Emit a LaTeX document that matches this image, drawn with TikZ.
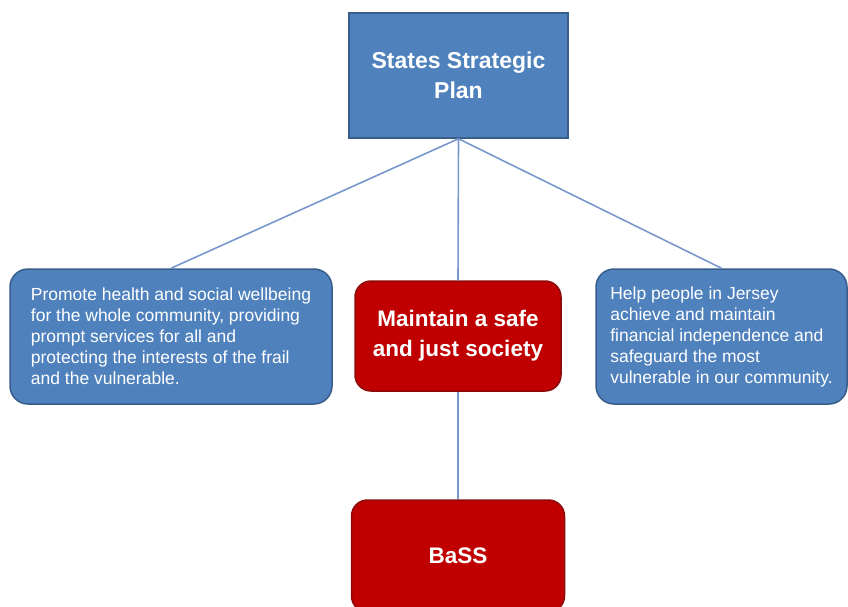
\documentclass[tikz,border=0pt]{standalone}
\usepackage{fontspec}
\setmainfont{Liberation Sans}
\definecolor{boxblue}{RGB}{79,129,189}
\definecolor{boxedge}{RGB}{56,93,138}
\definecolor{boxred}{RGB}{192,0,0}
\definecolor{rededge}{RGB}{140,10,10}
\definecolor{linkblue}{RGB}{120,152,205}
\begin{document}
\begin{tikzpicture}[x=1pt,y=-1pt,
    planbox/.style={draw=boxedge,fill=boxblue,line width=1.5pt,text=white,inner sep=0pt,
        font=\fontsize{23}{30}\selectfont\bfseries,align=center},
    aimbox/.style={draw=boxedge,fill=boxblue,line width=1.5pt,text=white,inner sep=0pt,
        rounded corners=18pt,font=\fontsize{17.5}{21}\selectfont,align=left},
    redbox/.style={draw=rededge,fill=boxred,line width=1.5pt,text=white,inner sep=0pt,
        rounded corners=16pt,font=\fontsize{22.5}{30}\selectfont\bfseries,align=center},
    link/.style={draw=linkblue,line width=1.6pt}]
    \useasboundingbox (0,0) rectangle (848,607);

    % Top of the plan
    \node[planbox,minimum width=219pt,minimum height=125pt] (plan) at (458.5,75.5)
        {States Strategic\\Plan};

    % Three aims
    \node[aimbox,minimum width=322pt,minimum height=135pt] (health) at (171,336.5)
        {Promote health and social wellbeing\\for the whole community, providing\\prompt services for all and\\protecting the interests of the frail\\and the vulnerable.};
    \node[redbox,minimum width=206pt,minimum height=110pt] (safe) at (458,336)
        {Maintain a safe\\and just society};
    \node[aimbox,minimum width=251pt,minimum height=135pt] (finance) at (721.5,336.5)
        {Help people in Jersey\\achieve and maintain\\financial independence and\\safeguard the most\\vulnerable in our community.};

    % Service
    \node[redbox,minimum width=213pt,minimum height=112pt] (bass) at (458,556) {BaSS};

    % Links
    \draw[link] (plan.south) -- (health.north);
    \draw[link] (plan.south) -- (safe.north);
    \draw[link] (plan.south) -- (finance.north);
    \draw[link] (safe.south) -- (bass.north);
\end{tikzpicture}
\end{document}
